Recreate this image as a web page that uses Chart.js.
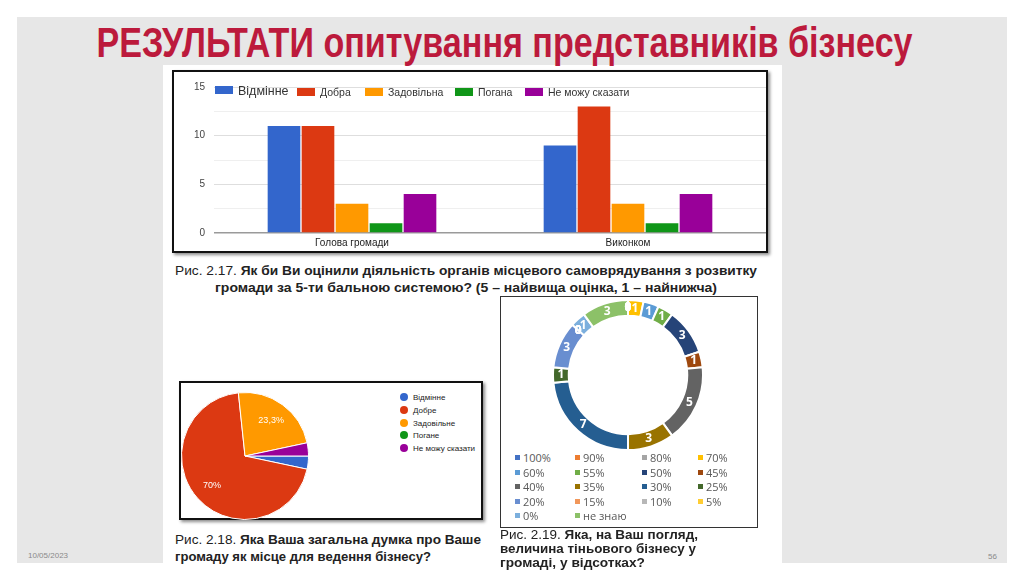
<!DOCTYPE html>
<html>
<head>
<meta charset="utf-8">
<script src="https://cdn.jsdelivr.net/npm/chart.js@4.4.0/dist/chart.umd.min.js"></script>
<style>
  html, body { margin: 0; padding: 0; }
  body { width: 1024px; height: 581px; position: relative; overflow: hidden; background: #fff;
         font-family: "Liberation Sans", Arial, sans-serif; color: #222; }
  .abs { position: absolute; }
  #slide { left: 17px; top: 17px; width: 990px; height: 546px; background: #e7e7e7; }
  #panel { left: 163px; top: 65px; width: 619px; height: 516px; background: #fff; }
  #title { left: 0; top: 22px; width: 1010px; text-align: center; white-space: nowrap;
           font-size: 42px; line-height: 42px; font-weight: bold; color: #bc1a3c; }
  #title span { display: inline-block; transform-origin: center; }
  .box { box-sizing: border-box; background: #fff; }
  #barBox { left: 172px; top: 70px; width: 596px; height: 183px; border: 2px solid #111;
            box-shadow: 2px 2px 3px rgba(0,0,0,0.45); }
  #pieBox { left: 179px; top: 381px; width: 304px; height: 139px; border: 2px solid #111;
            box-shadow: 2px 2px 3px rgba(0,0,0,0.45); }
  #donutBox { left: 500px; top: 296px; width: 258px; height: 232px; border: 1.5px solid #333; }
  .capLine { position: absolute; font-size: 13px; line-height: 15px; white-space: nowrap;
             transform-origin: left center; }
  .capLine b { font-weight: bold; }
  .legItem { white-space: nowrap; }
  .foot { font-size: 8px; color: #8a8a8a; }
</style>
</head>
<body>
<div id="slide" class="abs"></div>
<div id="panel" class="abs"></div>
<div id="title" class="abs"><span>РЕЗУЛЬТАТИ опитування представників бізнесу</span></div>

<div id="barBox" class="abs box"></div>
<canvas id="barChart" class="abs" width="592" height="179" style="left:174px;top:72px"></canvas>
<div id="barLegend"></div>

<div class="capLine" data-w="582" style="left:175px;top:263px">Рис. 2.17. <b>Як би Ви оцінили діяльність органів місцевого самоврядування з розвитку</b></div>
<div class="capLine" data-w="502" style="left:215px;top:280px"><b>громади за 5-ти бальною системою? (5 – найвища оцінка, 1 – найнижча)</b></div>

<div id="pieBox" class="abs box"></div>
<canvas id="pieChart" class="abs" width="128" height="128" style="left:181px;top:392px"></canvas>
<div id="pieLegend"></div>

<div class="capLine" data-w="306" style="left:175px;top:532px">Рис. 2.18. <b>Яка Ваша загальна думка про Ваше</b></div>
<div class="capLine" data-w="256" style="left:175px;top:549px"><b>громаду як місце для ведення бізнесу?</b></div>

<div id="donutBox" class="abs box"></div>
<canvas id="donutChart" class="abs" width="152" height="152" style="left:552px;top:299px"></canvas>
<div id="donutLegend"></div>

<div class="capLine" data-w="198" style="left:500px;top:527px">Рис. 2.19. <b>Яка, на Ваш погляд,</b></div>
<div class="capLine" data-w="196" style="left:500px;top:541px"><b>величина тіньового бізнесу у</b></div>
<div class="capLine" data-w="145" style="left:500px;top:555px"><b>громаді, у відсотках?</b></div>

<div class="abs foot" style="left:28px;top:551px">10/05/2023</div>
<div class="abs foot" style="left:988px;top:552px">56</div>

<script>
// ---- Fig. 2.17: rating of local self-government bodies
const barCategories = ['Голова громади', 'Виконком'];
const ratingNames = ['Відмінне', 'Добра', 'Задовільна', 'Погана', 'Не можу сказати'];
const ratingExcellent = [11, 9];
const ratingGood = [11, 13];
const ratingFair = [3, 3];
const ratingPoor = [1, 1];
const ratingUnsure = [4, 4];
const yTickLabels = [0, 5, 10, 15];

// ---- Fig. 2.18: community as a place for business
const opinionNames = ['Відмінне', 'Добре', 'Задовільне', 'Погане', 'Не можу сказати'];
const opinionCounts = [1, 21, 7, 0, 1];

// ---- Fig. 2.19: share of shadow business
const shadowShares = ['100%', '90%', '80%', '70%', '60%', '55%', '50%', '45%', '40%',
                      '35%', '30%', '25%', '20%', '15%', '10%', '5%', '0%', 'не знаю'];
const shadowCounts = [0, 0, 0, 1, 1, 1, 3, 1, 5, 3, 7, 1, 3, 0, 0, 0, 1, 3];

// colours
const googleColors = ['#3366cc', '#dc3912', '#ff9900', '#109618', '#990099'];
const officeColors = ['#4472c4', '#ed7d31', '#a5a5a5', '#ffc000', '#5b9bd5', '#70ad47',
                      '#264478', '#9e480e', '#636363', '#997300', '#255e91', '#43682b',
                      '#698ed0', '#f1975a', '#b7b7b7', '#ffcd33', '#7cafdd', '#8cc168'];

const FONT = '"Liberation Sans", Arial, sans-serif';

// stretch a text line to the width it has in the picture
function fitWidth(el, w) {
    const cur = el.getBoundingClientRect().width;
    if (cur > 0) el.style.transform = 'scaleX(' + (w / cur) + ')';
}
document.querySelectorAll('.capLine').forEach(s => fitWidth(s, +s.dataset.w));
fitWidth(document.querySelector('#title span'), 816);

// labels drawn on slices (no datalabels plugin available offline)
function sliceLabels(textFor, font, pos) {
    return {
        id: 'sliceLabels',
        afterDatasetsDraw(chart) {
            const ctx = chart.ctx;
            const meta = chart.getDatasetMeta(0);
            ctx.save();
            ctx.font = font;
            ctx.fillStyle = '#fff';
            ctx.textAlign = 'center';
            ctx.textBaseline = 'middle';
            meta.data.forEach((arc, i) => {
                const text = textFor(i);
                if (text === null) return;
                const p = arc.getProps(['x', 'y', 'startAngle', 'endAngle', 'innerRadius', 'outerRadius']);
                const mid = (p.startAngle + p.endAngle) / 2;
                const r = p.innerRadius + (p.outerRadius - p.innerRadius) * pos;
                ctx.fillText(text, p.x + Math.cos(mid) * r, p.y + Math.sin(mid) * r);
            });
            ctx.restore();
        }
    };
}

/**
 * Bar chart
 */
const ratingSeries = [ratingExcellent, ratingGood, ratingFair, ratingPoor, ratingUnsure];

new Chart(document.getElementById('barChart'), {
    type: 'bar',
    data: {
        labels: barCategories,
        datasets: ratingNames.map((name, i) => ({
            label: name,
            data: ratingSeries[i],
            backgroundColor: googleColors[i],
            barPercentage: 0.96,
            categoryPercentage: 0.616
        }))
    },
    options: {
        responsive: false,
        animation: false,
        layout: { padding: { top: 10, left: 0, right: 0, bottom: 0 } },
        plugins: { legend: { display: false }, tooltip: { enabled: false } },
        scales: {
            x: {
                grid: { display: false, drawTicks: false },
                border: { display: false },
                ticks: { color: '#222', font: { family: FONT, size: 10 }, padding: 4 },
                afterFit: s => { s.height = 18; }
            },
            y: {
                min: 0,
                max: 15,
                border: { display: false },
                grid: {
                    drawTicks: false,
                    lineWidth: c => c.tick && c.tick.value === 0 ? 1.5 : 1,
                    color: c => {
                        const v = c.tick ? c.tick.value : 0;
                        if (v === 0) return '#9a9a9a';
                        return yTickLabels.includes(v) ? '#dedede' : '#efefef';
                    }
                },
                ticks: {
                    stepSize: 2.5,
                    autoSkip: false,
                    padding: 9,
                    color: '#444',
                    font: { family: FONT, size: 10 },
                    callback: v => yTickLabels.includes(v) ? String(v) : ''
                },
                afterFit: s => { s.width = 40; }
            }
        }
    }
});

// legend sits inside the plot, as in Google Forms
const barLegendX = [215, 297, 365, 455, 525];
document.getElementById('barLegend').innerHTML = ratingNames.map((name, i) => {
    const big = i === 0;
    return '<div class="abs legItem" style="left:' + barLegendX[i] + 'px;top:' + (big ? 84 : 86) + 'px;' +
        'font-size:' + (big ? 12.5 : 10.5) + 'px;line-height:' + (big ? 15 : 13) + 'px;color:#333">' +
        '<span style="display:inline-block;width:18px;height:8px;margin-right:5px;vertical-align:' +
        (big ? '1px' : '0px') + ';background:' + googleColors[i] + '"></span>' + name + '</div>';
}).join('');

/**
 * Pie chart
 */
const opinionTotal = opinionCounts.reduce((a, b) => a + b, 0);

function pctText(i) {
    const share = opinionCounts[i] / opinionTotal * 100;
    if (share < 5) return null;
    return (Math.round(share * 10) / 10).toString().replace('.', ',') + '%';
}

new Chart(document.getElementById('pieChart'), {
    type: 'pie',
    data: {
        labels: opinionNames,
        datasets: [{
            data: opinionCounts,
            backgroundColor: googleColors,
            borderColor: '#fff',
            borderWidth: 1
        }]
    },
    options: {
        responsive: false,
        animation: false,
        rotation: 90,
        plugins: { legend: { display: false }, tooltip: { enabled: false } }
    },
    plugins: [sliceLabels(pctText, '9px ' + FONT, 0.7)]
});

document.getElementById('pieLegend').innerHTML = opinionNames.map((name, i) =>
    '<div class="abs legItem" style="left:400px;top:' + (392 + i * 12.8) + 'px;font-size:8px;line-height:12px;color:#222">' +
    '<span style="display:inline-block;width:8px;height:8px;border-radius:50%;margin-right:5px;vertical-align:-1px;background:' +
    googleColors[i] + '"></span>' + name + '</div>'
).join('');

/**
 * Doughnut chart
 */
new Chart(document.getElementById('donutChart'), {
    type: 'doughnut',
    data: {
        labels: shadowShares,
        datasets: [{
            data: shadowCounts,
            backgroundColor: officeColors,
            borderColor: '#fff',
            borderWidth: 2
        }]
    },
    options: {
        responsive: false,
        animation: false,
        cutout: '79%',
        plugins: { legend: { display: false }, tooltip: { enabled: false } }
    },
    plugins: [sliceLabels(i => String(shadowCounts[i]), 'bold 12px "Open Sans", sans-serif', 0.5)]
});

const donutColX = [515, 575, 642, 698];
const donutRowY = [458, 472.5, 487, 501.5, 516];
document.getElementById('donutLegend').innerHTML = shadowShares.map((name, i) => {
    const x = donutColX[i % 4];
    const y = donutRowY[Math.floor(i / 4)];
    return '<div class="abs legItem" style="left:' + x + 'px;top:' + (y - 8) + 'px;font-family:\'Open Sans\',sans-serif;' +
        'font-size:11px;line-height:16px;color:#595959">' +
        '<span style="display:inline-block;width:5px;height:5px;margin-right:3px;vertical-align:2px;background:' +
        officeColors[i] + '"></span>' + name + '</div>';
}).join('');
</script>
</body>
</html>
